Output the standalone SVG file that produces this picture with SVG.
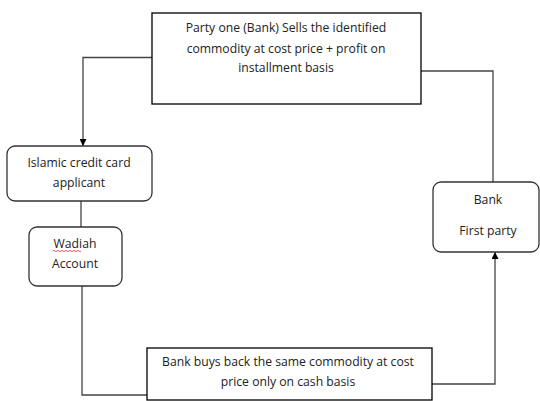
<svg xmlns="http://www.w3.org/2000/svg" width="540" height="401" viewBox="0 0 540 401">
<defs>
<marker id="arr" viewBox="0 0 10 10" refX="10" refY="5" markerWidth="7" markerHeight="7" orient="auto" markerUnits="userSpaceOnUse"><path d="M0,0 L10,5 L0,10 z" fill="#000"/></marker>
</defs>
<style>
.box{fill:#fff;stroke:#000;stroke-width:1.3}
.rbox{fill:#fff;stroke:#333;stroke-width:1.3}
.t{font-family:"Open Sans","Liberation Sans",sans-serif;font-size:12.2px;fill:#222;text-anchor:middle}
.c{fill:none;stroke:#444;stroke-width:1.3}
</style>
<rect width="540" height="401" fill="#fff"/>
<g id="connectors">
<polyline class="c" points="152,57.5 83,57.5 83,146" marker-end="url(#arr)"/>
<polyline class="c" points="420,71 493,71 493,182"/>
<line class="c" x1="81" y1="201" x2="81" y2="227"/>
<polyline class="c" points="82,286 82,395 147,395"/>
<polyline class="c" points="432,384 495,384 495,252" marker-end="url(#arr)"/>
</g>
<g id="top">
<rect class="box" x="152" y="13" width="269" height="91"/>
<text class="t" x="286" y="32">Party one (Bank) Sells the identified</text>
<text class="t" x="286" y="53">commodity at cost price + profit on</text>
<text class="t" x="286" y="72">installment basis</text>
</g>
<g id="applicant">
<rect class="rbox" x="7" y="146" width="145" height="55" rx="8"/>
<text class="t" x="79" y="167">Islamic credit card</text>
<text class="t" x="79" y="187">applicant</text>
</g>
<g id="wadiah">
<rect class="rbox" x="29" y="227" width="93" height="59" rx="8"/>
<text class="t" x="75" y="248">Wadiah</text>
<path d="M53,251 q1,-1.2 2,0 t2,0 t2,0 t2,0 t2,0 t2,0 t2,0 t2,0 t2,0 t2,0 t2,0 t2,0 t2,0 t2,0" fill="none" stroke="#e33" stroke-width="0.8"/>
<text class="t" x="75" y="268">Account</text>
</g>
<g id="bank">
<rect class="rbox" x="433" y="182" width="106" height="70" rx="8"/>
<text class="t" x="488" y="204">Bank</text>
<text class="t" x="488" y="235">First party</text>
</g>
<g id="bottom">
<rect class="box" x="147" y="348" width="285" height="52"/>
<text class="t" x="288" y="366">Bank buys back the same commodity at cost</text>
<text class="t" x="288" y="386">price only on cash basis</text>
</g>
</svg>
